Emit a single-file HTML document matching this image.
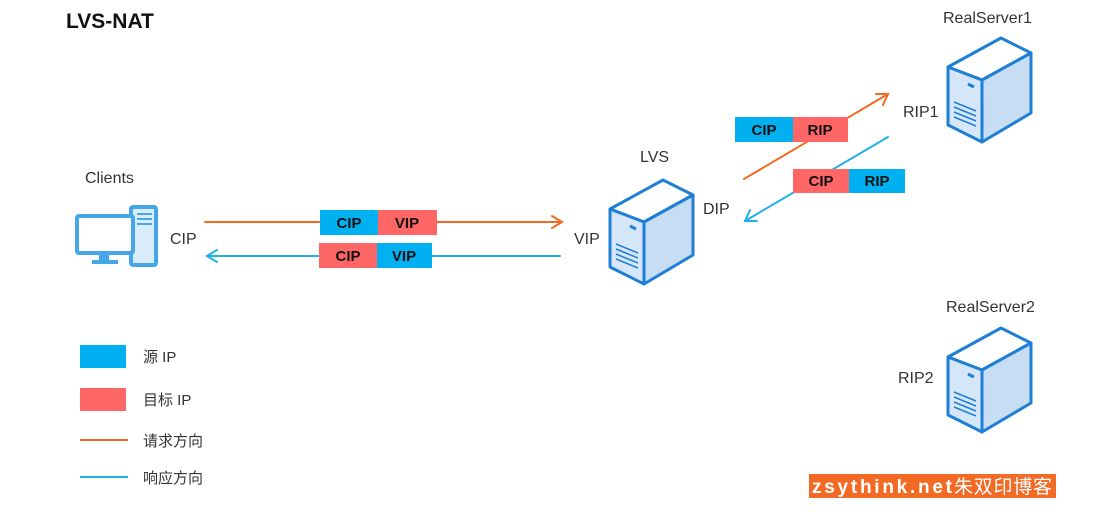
<!DOCTYPE html>
<html><head><meta charset="utf-8"><style>
html,body{margin:0;padding:0;background:#fff;width:1111px;height:516px;overflow:hidden}
svg text{font-family:"Liberation Sans","Noto Sans CJK SC",sans-serif}
</style></head><body>
<svg width="1111" height="516" viewBox="0 0 1111 516" xmlns="http://www.w3.org/2000/svg">
<defs>
<g id="srv">
<polygon points="0,29 53,0 83,15 34,42" fill="#fff" stroke="#1f7fd4" stroke-width="3" stroke-linejoin="round"/>
<polygon points="0,29 34,42 34,104 0,87" fill="#d4e6f7" stroke="#1f7fd4" stroke-width="3" stroke-linejoin="round"/>
<polygon points="34,42 83,15 83,75 34,104" fill="#c6ddf3" stroke="#1f7fd4" stroke-width="3" stroke-linejoin="round"/>
<line x1="20" y1="46" x2="26" y2="49" stroke="#1f7fd4" stroke-width="3"/>
<g stroke="#1f7fd4" stroke-width="1.5">
<line x1="6" y1="64" x2="28" y2="73"/><line x1="6" y1="69" x2="28" y2="78"/><line x1="6" y1="74" x2="28" y2="83"/><line x1="6" y1="79" x2="28" y2="88"/>
</g>
</g>
</defs>

<text x="66" y="28" font-size="21" font-weight="bold" fill="#111">LVS-NAT</text>

<!-- client -->
<g fill="none" stroke="#45a6ea" stroke-width="4">
<rect x="131" y="207" width="25" height="58" rx="2" fill="#d9ecfa"/>
<rect x="77" y="216" width="56" height="37" rx="2" fill="#fff"/>
</g>
<rect x="99" y="253" width="10" height="7" fill="#45a6ea"/>
<rect x="92" y="260" width="26" height="4" fill="#45a6ea"/>
<g stroke="#45a6ea" stroke-width="2"><line x1="137" y1="214" x2="152" y2="214"/><line x1="137" y1="219" x2="152" y2="219"/><line x1="137" y1="224" x2="152" y2="224"/></g>
<text x="85" y="183" font-size="16" fill="#333">Clients</text>
<text x="170" y="244" font-size="16" fill="#333">CIP</text>

<!-- servers -->
<use href="#srv" x="610" y="180"/>
<use href="#srv" x="948" y="38"/>
<use href="#srv" x="948" y="328"/>
<text x="640" y="162" font-size="16" fill="#333">LVS</text>
<text x="574" y="244" font-size="16" fill="#333">VIP</text>
<text x="703" y="214" font-size="16" fill="#333">DIP</text>
<text x="903" y="117" font-size="16" fill="#333">RIP1</text>
<text x="943" y="23" font-size="16" fill="#333">RealServer1</text>
<text x="946" y="312" font-size="16" fill="#333">RealServer2</text>
<text x="898" y="383" font-size="16" fill="#333">RIP2</text>

<!-- lines -->
<g stroke-width="2" fill="none" stroke-linecap="round">
<line x1="205" y1="222" x2="562" y2="222" stroke="#f26a24"/>
<polyline points="552,216 562,222 552,228" stroke="#f26a24"/>
<line x1="207" y1="256" x2="560" y2="256" stroke="#1fb0ea"/>
<polyline points="217,250 207,256 217,262" stroke="#1fb0ea"/>
<line x1="744" y1="179" x2="888" y2="94" stroke="#f26a24"/>
<polyline points="876,94 888,94 883,105" stroke="#f26a24"/>
<line x1="888" y1="137" x2="745" y2="221" stroke="#1fb0ea"/>
<polyline points="750,210 745,221 757,221" stroke="#1fb0ea"/>
</g>

<!-- packets -->
<g font-size="15" font-weight="bold" fill="#111" text-anchor="middle">
<rect x="320" y="210" width="58" height="25" fill="#00b0f0"/><rect x="378" y="210" width="59" height="25" fill="#ff6666"/>
<text x="349" y="228">CIP</text><text x="407" y="228">VIP</text>
<rect x="319" y="243" width="58" height="25" fill="#ff6666"/><rect x="377" y="243" width="55" height="25" fill="#00b0f0"/>
<text x="348" y="261">CIP</text><text x="404" y="261">VIP</text>
<rect x="735" y="117" width="58" height="25" fill="#00b0f0"/><rect x="793" y="117" width="55" height="25" fill="#ff6666"/>
<text x="764" y="135">CIP</text><text x="820" y="135">RIP</text>
<rect x="793" y="169" width="56" height="24" fill="#ff6666"/><rect x="849" y="169" width="56" height="24" fill="#00b0f0"/>
<text x="821" y="186">CIP</text><text x="877" y="186">RIP</text>
</g>

<!-- legend -->
<rect x="80" y="345" width="46" height="23" fill="#00b0f0"/>
<rect x="80" y="388" width="46" height="23" fill="#ff6666"/>
<line x1="80" y1="440" x2="128" y2="440" stroke="#f26a24" stroke-width="2"/>
<line x1="80" y1="477" x2="128" y2="477" stroke="#1fb0ea" stroke-width="2"/>
<g font-size="15" fill="#333">
<text x="143" y="362">源 IP</text>
<text x="143" y="405">目标 IP</text>
<text x="143" y="446">请求方向</text>
<text x="143" y="483">响应方向</text>
</g>

<!-- watermark -->
<rect x="809" y="474" width="247" height="24" fill="#f26a24"/>
<text x="812" y="493" font-size="19" font-weight="bold" fill="#fff" textLength="140" lengthAdjust="spacing">zsythink.net</text>
<text x="954" y="493" font-size="19" fill="#fff" textLength="98" lengthAdjust="spacing">朱双印博客</text>
</svg>
</body></html>
